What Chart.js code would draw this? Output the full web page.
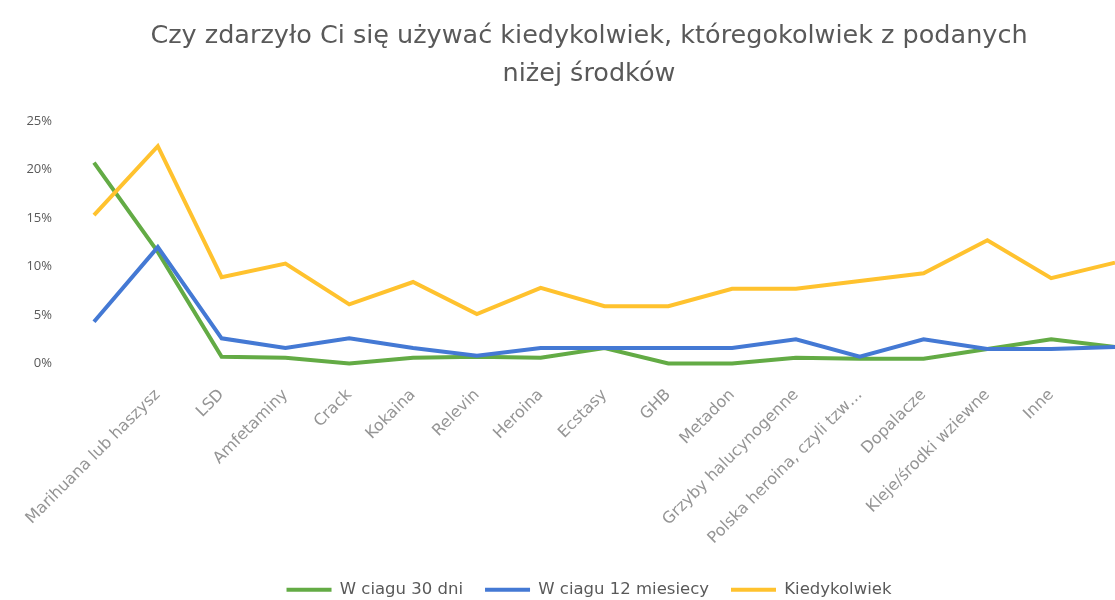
<!DOCTYPE html>
<html>
<head>
<meta charset="utf-8">
<script src="https://cdn.jsdelivr.net/npm/chart.js@4/dist/chart.umd.min.js"></script>
<style>
  body { margin: 0; background: #fff; }
  #wrap { width: 1115px; height: 600px; overflow: hidden; position: relative; }
  canvas { display: block; }
</style>
</head>
<body>
<div id="wrap"><canvas id="mycanvas" width="1178" height="608"></canvas></div>
<script>
// categories (first and last point have no label in the picture)
const categories = ['', 'Marihuana lub haszysz', 'LSD', 'Amfetaminy', 'Crack', 'Kokaina', 'Relevin',
  'Heroina', 'Ecstasy', 'GHB', 'Metadon', 'Grzyby halucynogenne', 'Polska heroina, czyli tzw…',
  'Dopalacze', 'Kleje/środki wziewne', 'Inne', '']
// values in %
const last30days = [20.7, 11.5, 0.7, 0.6, 0, 0.6, 0.7, 0.6, 1.6, 0, 0, 0.6, 0.5, 0.5, 1.5, 2.5, 1.7]
const last12months = [4.3, 12.0, 2.6, 1.6, 2.6, 1.6, 0.8, 1.6, 1.6, 1.6, 1.6, 2.5, 0.7, 2.5, 1.5, 1.5, 1.7]
const ever = [15.3, 22.4, 8.9, 10.3, 6.1, 8.4, 5.1, 7.8, 5.9, 5.9, 7.7, 7.7, 8.5, 9.3, 12.7, 8.8, 10.4]
const seriesNames = ['W ciagu 30 dni', 'W ciagu 12 miesiecy', 'Kiedykolwiek']
const yTicks = [0, 5, 10, 15, 20, 25]

const colors = ['#63AB45', '#4479D4', '#FFC22E']
const font = "'Open Sans', 'Noto Sans', sans-serif"
const wide = "'DejaVu Sans', sans-serif"

function line(label, data, color, order) {
  return {
    label: label, data: data, borderColor: color, backgroundColor: color,
    borderWidth: 4, pointRadius: 0, tension: 0, clip: false, order: order
  }
}

new Chart(document.getElementById('mycanvas'), {
  type: 'line',
  data: {
    labels: categories,
    datasets: [
      line(seriesNames[0], last30days, colors[0], 3),
      line(seriesNames[1], last12months, colors[1], 2),
      line(seriesNames[2], ever, colors[2], 1)
    ]
  },
  options: {
    responsive: false,
    animation: false,
    devicePixelRatio: 1,
    plugins: {
      tooltip: { enabled: false },
      title: {
        display: true,
        text: ['Czy zdarzyło Ci się używać kiedykolwiek, któregokolwiek z podanych', 'niżej środków'],
        color: '#595959',
        font: { family: wide, size: 25.5, weight: 'normal', lineHeight: 1.49 },
        padding: { top: 17, bottom: 28 }
      },
      legend: {
        position: 'bottom',
        labels: {
          color: '#595959',
          font: { family: wide, size: 16.5 },
          boxWidth: 45,
          boxHeight: 4,
          padding: 22,
          sort: (a, b) => a.datasetIndex - b.datasetIndex,
          generateLabels: (chart) => {
            let items = Chart.defaults.plugins.legend.labels.generateLabels(chart)
            items.forEach(it => { it.lineWidth = 0 })
            return items
          }
        }
      }
    },
    scales: {
      x: {
        grid: { display: false, drawTicks: false },
        border: { display: false },
        ticks: {
          color: '#959595',
          font: { family: wide, size: 16 },
          minRotation: 45, maxRotation: 45,
          autoSkip: false,
          padding: 22
        },
        afterFit: (s) => { s.height = 196 }
      },
      y: {
        min: 0, max: 25,
        grid: { display: false, drawTicks: false },
        border: { display: false },
        afterBuildTicks: (s) => { s.ticks = yTicks.map(v => ({ value: v })) },
        ticks: {
          color: '#595959',
          font: { family: font, size: 13 },
          padding: 42,
          callback: (v) => v + '%'
        },
        afterFit: (s) => { s.width = 94 }
      },
      // empty right axis only to keep room so title and legend sit where the picture has them
      yRight: {
        position: 'right',
        grid: { display: false, drawTicks: false },
        border: { display: false },
        ticks: { display: false },
        afterFit: (s) => { s.width = 63 }
      }
    }
  }
})
</script>
</body>
</html>
